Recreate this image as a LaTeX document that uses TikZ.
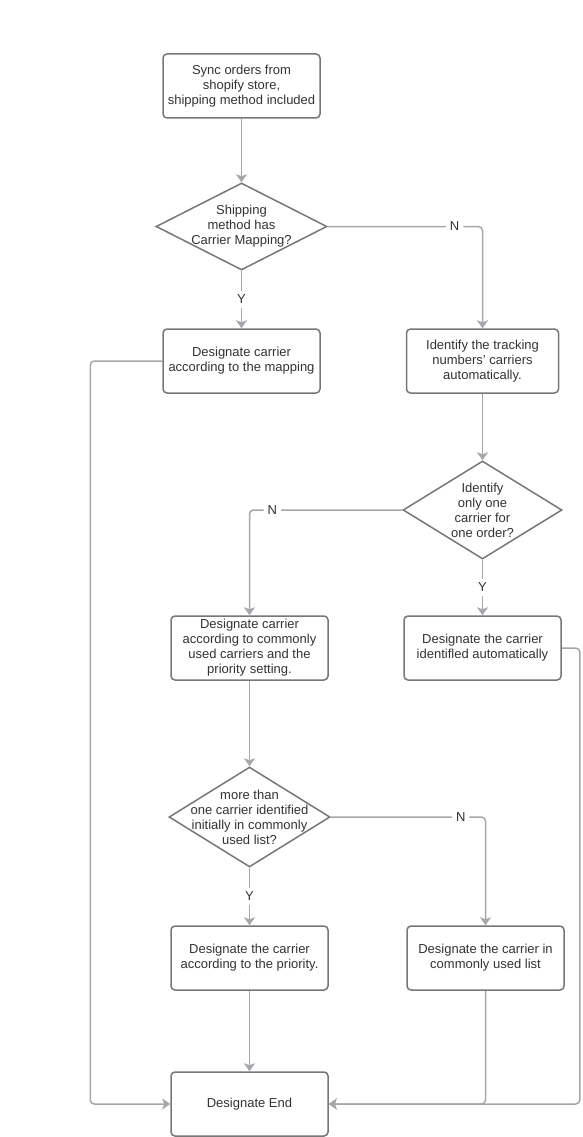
\documentclass[tikz,border=0pt]{standalone}
\usepackage{fontspec}
\setmainfont{Liberation Sans}
\usetikzlibrary{shapes.geometric,arrows.meta,calc}

\definecolor{boxline}{HTML}{777777}
\definecolor{conn}{HTML}{A6A6AB}
\definecolor{txtc}{HTML}{333333}

\begin{document}
\begin{tikzpicture}[
    x=1pt, y=-1pt,
    >={Stealth[length=8pt, width=11pt, inset=2pt]},
    proc/.style={rectangle, draw=boxline, line width=1.5pt, fill=white, rounded corners=4pt,
                 minimum width=157pt, minimum height=64pt, inner sep=0pt,
                 align=center, text=txtc, font=\fontsize{13}{15}\selectfont},
    dec/.style={diamond, draw=boxline, line width=1.5pt, fill=white, inner sep=0pt},
    dtxt/.style={align=center, text=txtc, font=\fontsize{13}{15}\selectfont, inner sep=0pt},
    arr/.style={->, draw=conn, line width=1.5pt, rounded corners=4pt},
    lbl/.style={fill=white, text=txtc, font=\fontsize{13}{14}\selectfont, inner sep=4pt}
  ]
    \useasboundingbox (0,0) rectangle (583,1137);

    %--- Left column ---
    \node[proc] (sync) at (241.5, 86) {Sync orders from\\shopify store,\\shipping method included};
    \node[dec, minimum width=171pt, minimum height=87pt,
          label={[dtxt]center:{Shipping\\method has\\Carrier Mapping?}}] (hasmap) at (241.5, 226.5) {};
    \node[proc] (bymap) at (241.5, 361) {Designate carrier\\according to the mapping};

    %--- Right column ---
    \node[proc, minimum width=152pt] (ident) at (482.5, 361) {Identify the tracking\\numbers' carriers\\automatically.};
    \node[dec, minimum width=159pt, minimum height=98pt,
          label={[dtxt]center:{Identify\\only one\\carrier for\\one order?}}] (onlyone) at (482.5, 510) {};
    \node[proc] (auto) at (482.5, 648) {Designate the carrier\\identifled automatically};

    %--- Lower part ---
    \node[proc] (common) at (249.5, 648) {Designate carrier\\according to commonly\\used carriers and the\\priority setting.};
    \node[dec, minimum width=161pt, minimum height=100pt,
          label={[dtxt]center:{more than\\one carrier identified\\initially in commonly\\used list?}}] (morethan) at (249.5, 817) {};
    \node[proc] (prio) at (249.5, 958) {Designate the carrier\\according to the priority.};
    \node[proc] (inlist) at (485.5, 958) {Designate the carrier in\\commonly used list};
    \node[proc] (fin) at (249.5, 1104) {Designate End};

    %--- Connectors ---
    \draw[arr] (sync) -- (hasmap);
    \draw[arr] (hasmap) -- node[lbl]{Y} (bymap);
    \draw[arr] (hasmap.east) -| node[lbl, pos=0.41]{N} (ident.north);
    \draw[arr] (ident) -- (onlyone);
    \draw[arr] (onlyone.west) -| node[lbl, pos=0.425]{N} (common.north);
    \draw[arr] (onlyone) -- node[lbl]{Y} (auto);
    \draw[arr] (common) -- (morethan);
    \draw[arr] (morethan) -- node[lbl]{Y} (prio);
    \draw[arr] (morethan.east) -| node[lbl, pos=0.42]{N} (inlist.north);
    \draw[arr] (prio) -- (fin);

    %--- Into the end node ---
    \draw[arr] (bymap.west) -- ++(-72,0) |- (fin.west);
    \draw[arr] (auto.east) -- ++(18,0) |- (fin.east);
    \draw[arr] (inlist.south) |- (fin.east);
\end{tikzpicture}
\end{document}
